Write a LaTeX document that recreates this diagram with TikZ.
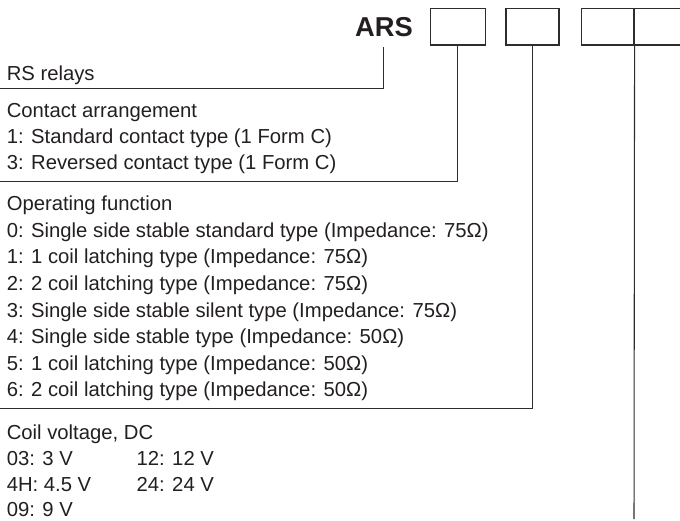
\documentclass[tikz,border=0pt]{standalone}
\usepackage{fontspec}
\setmainfont{Liberation Sans}
\definecolor{ink}{RGB}{35,31,32}
\definecolor{linec}{RGB}{45,45,45}
\begin{document}
\begin{tikzpicture}[x=0.75pt,y=-0.75pt,
  txt/.style={anchor=base west, inner sep=0pt, font=\fontsize{15.2pt}{18pt}\selectfont, text=ink},
  codebox/.style={draw=linec, line width=0.8pt, inner sep=0pt, minimum height=27.5pt},
  conn/.style={draw=linec, line width=0.8pt}]
\useasboundingbox (0,0) rectangle (680,520);
% title and code boxes
\node[anchor=base, inner sep=0pt, font=\fontsize{20.5pt}{24pt}\selectfont\bfseries, text=ink] (ars) at (383.9,36.7) {ARS};
\node[codebox, minimum width=40.7pt] (b1) at (457.9,26.65) {};
\node[codebox, minimum width=39.75pt] (b2) at (532.5,26.65) {};
\node[codebox, minimum width=39.2pt] (b3) at (607.9,26.65) {};
\node[codebox, minimum width=39.75pt] (b4) at (660.5,26.65) {};
% end points of connectors
\coordinate (e1) at (0,88.3);
\coordinate (e2) at (0,181.7);
\coordinate (e3) at (0,408.6);
\coordinate (e4) at (634,519);
% connectors
\draw[conn] ([yshift=-7.5pt]ars.south) |- (e1);
\draw[conn] (b1.south) |- (e2);
\draw[conn] (b2.south) |- (e3);
\draw[conn] (b3.south east) -- (e4);
% texts
\node[txt] (rs) at (6.5,80.7) {RS relays};
\node[txt] (ca) at (6.5,117.7) {Contact arrangement};
\node[txt] (ca1) at (6.5,143.4) {1: Standard contact type (1 Form C)};
\node[txt] (ca3) at (6.5,169.2) {3: Reversed contact type (1 Form C)};
\node[txt] (of) at (6.5,210.7) {Operating function};
\node[txt] (of0) at (6.5,237.3) {0: Single side stable standard type (Impedance: 75Ω)};
\node[txt] (of1) at (6.5,263.9) {1: 1 coil latching type (Impedance: 75Ω)};
\node[txt] (of2) at (6.5,290.4) {2: 2 coil latching type (Impedance: 75Ω)};
\node[txt] (of3) at (6.5,317.0) {3: Single side stable silent type (Impedance: 75Ω)};
\node[txt] (of4) at (6.5,343.6) {4: Single side stable type (Impedance: 50Ω)};
\node[txt] (of5) at (6.5,370.1) {5: 1 coil latching type (Impedance: 50Ω)};
\node[txt] (of6) at (6.5,396.7) {6: 2 coil latching type (Impedance: 50Ω)};
\node[txt] (cv) at (6.5,439.0) {Coil voltage, DC};
\node[txt] (v03) at (6.5,465.0) {03: 3 V};
\node[txt] (v12) at (136.3,465.0) {12: 12 V};
\node[txt] (v4h) at (6.5,491.0) {4H: 4.5 V};
\node[txt] (v24) at (136.3,491.0) {24: 24 V};
\node[txt] (v09) at (6.5,516.7) {09: 9 V};
\end{tikzpicture}
\end{document}
